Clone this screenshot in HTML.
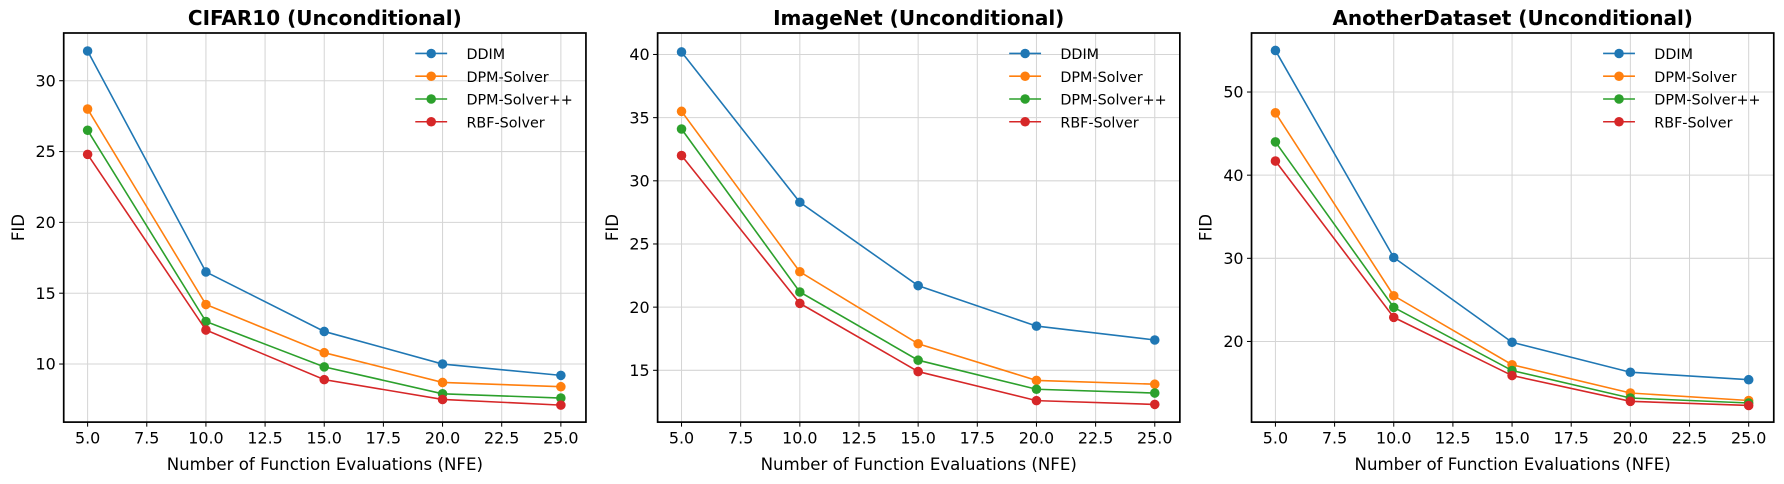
<!DOCTYPE html>
<html><head><meta charset="utf-8"><style>
body{margin:0;background:#fff;width:1784px;height:484px;overflow:hidden}
svg{font-family:"DejaVu Sans","Liberation Sans",sans-serif;display:block}
</style></head><body>
<svg id="chart" width="1784" height="484" viewBox="0 0 1568 425.4" preserveAspectRatio="none" xmlns="http://www.w3.org/2000/svg"></svg>
<script>
const nfe = [5, 10, 15, 20, 25];
const seriesNames = ["DDIM", "DPM-Solver", "DPM-Solver++", "RBF-Solver"];
const titles = ["CIFAR10 (Unconditional)", "ImageNet (Unconditional)", "AnotherDataset (Unconditional)"];
const cifarDDIM = [32.1, 16.5, 12.3, 10.0, 9.2];
const cifarDPM = [28.0, 14.2, 10.8, 8.7, 8.4];
const cifarDPMpp = [26.5, 13.0, 9.8, 7.9, 7.6];
const cifarRBF = [24.8, 12.4, 8.9, 7.5, 7.1];
const imnetDDIM = [40.2, 28.3, 21.7, 18.5, 17.4];
const imnetDPM = [35.5, 22.8, 17.1, 14.2, 13.9];
const imnetDPMpp = [34.1, 21.2, 15.8, 13.5, 13.2];
const imnetRBF = [32.0, 20.3, 14.9, 12.6, 12.3];
const otherDDIM = [55.0, 30.1, 19.9, 16.3, 15.4];
const otherDPM = [47.5, 25.5, 17.2, 13.8, 12.9];
const otherDPMpp = [44.0, 24.1, 16.5, 13.2, 12.6];
const otherRBF = [41.7, 22.9, 15.9, 12.8, 12.3];
const xTicks = [5, 7.5, 10, 12.5, 15, 17.5, 20, 22.5, 25];
const yTicks1 = [10, 15, 20, 25, 30];
const yTicks2 = [15, 20, 25, 30, 35, 40];
const yTicks3 = [20, 30, 40, 50];

const colors = ["#1f77b4", "#ff7f0e", "#2ca02c", "#d62728"];
const panels = [
  {left:56, data:[cifarDDIM,cifarDPM,cifarDPMpp,cifarRBF], yt:yTicks1, ymin:5.9, ymax:33.37},
  {left:578, data:[imnetDDIM,imnetDPM,imnetDPMpp,imnetRBF], yt:yTicks2, ymin:10.9, ymax:41.7},
  {left:1100, data:[otherDDIM,otherDPM,otherDPMpp,otherRBF], yt:yTicks3, ymin:10.3, ymax:57.1}
];
const svg = document.getElementById('chart');
const NS = "http://www.w3.org/2000/svg";
function mk(tag, attrs, parent){const e=document.createElementNS(NS,tag);for(const k in attrs)e.setAttribute(k,attrs[k]);(parent||svg).appendChild(e);return e;}
const W=459, plotTop=29, plotBottom=371, H=plotBottom-plotTop;
panels.forEach((p,pi)=>{
  const g = mk('g',{});
  
  
  const xS = v => p.left + (v-3.99)/(26.06-3.99)*W;
  const yS = v => plotBottom - (v-p.ymin)/(p.ymax-p.ymin)*H;
  xTicks.forEach(t=>{
    const x=xS(t);
    mk('line',{x1:x,x2:x,y1:plotTop,y2:plotBottom,stroke:'#d5d5d5','stroke-width':0.9},g);
    mk('line',{x1:x,x2:x,y1:plotBottom,y2:plotBottom+4,stroke:'#000','stroke-width':0.9},g);
    const tx=mk('text',{x:x,y:plotBottom+19,'text-anchor':'middle','font-size':14},g);
    tx.textContent=t.toFixed(1);
    
    
  });
  p.yt.forEach(t=>{
    const y=yS(t);
    mk('line',{x1:p.left,x2:p.left+W,y1:y,y2:y,stroke:'#d5d5d5','stroke-width':0.9},g);
    mk('line',{x1:p.left-4,x2:p.left,y1:y,y2:y,stroke:'#000','stroke-width':0.9},g);
    const tx=mk('text',{x:p.left-7,y:y+5,'text-anchor':'end','font-size':14},g);
    tx.textContent=t;
    
    
  });
  p.data.forEach((s,si)=>{
    const pts=s.map((v,i)=>xS(nfe[i])+','+yS(v)).join(' ');
    const pl=mk('polyline',{points:pts,fill:'none',stroke:colors[si],'stroke-width':1.4},g);
    
    
    s.forEach((v,i)=>{
      const c=mk('circle',{cx:xS(nfe[i]),cy:yS(v),r:4.2,fill:colors[si]},g);
      
      
    });
  });
  mk('rect',{x:p.left,y:plotTop,width:W,height:H,fill:'none',stroke:'#000','stroke-width':1.5},g);
  const ti=mk('text',{x:p.left+W/2,y:22,'text-anchor':'middle','font-size':17.6,'font-weight':'bold'},g);
  ti.textContent=titles[pi];
  
  
  const xl=mk('text',{x:p.left+W/2,y:413,'text-anchor':'middle','font-size':14.6},g);
  xl.textContent='Number of Function Evaluations (NFE)';
  
  
  const yl=mk('text',{x:0,y:0,'text-anchor':'middle','font-size':14.6,transform:`translate(${p.left-35},${plotTop+H/2}) rotate(-90)`},g);
  yl.textContent='FID';
  
  
  seriesNames.forEach((n,si)=>{
    const ly=47+si*20, lx=p.left+309;
    const le=mk('g',{},g);
    
    
    mk('line',{x1:lx,x2:lx+28,y1:ly,y2:ly,stroke:colors[si],'stroke-width':1.4},le);
    mk('circle',{cx:lx+14,cy:ly,r:4.2,fill:colors[si]},le);
    const t=mk('text',{x:lx+45,y:ly+5,'font-size':12.6},le);
    t.textContent=n;
  });
});
</script>
</body></html>
